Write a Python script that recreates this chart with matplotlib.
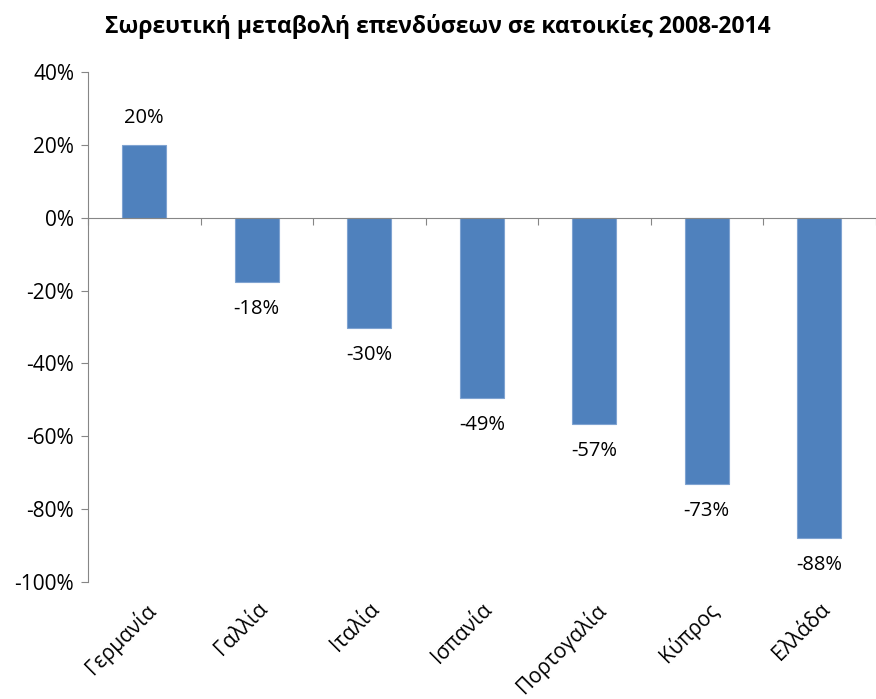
import matplotlib.pyplot as plt
from matplotlib.ticker import FuncFormatter

plt.rcParams['font.family'] = ['Open Sans', 'DejaVu Sans']

countries = ['Γερμανία', 'Γαλλία', 'Ιταλία', 'Ισπανία', 'Πορτογαλία', 'Κύπρος', 'Ελλάδα']
values = [20.0, -17.7, -30.3, -49.5, -56.6, -73.1, -88.0]
labels = ['20%', '-18%', '-30%', '-49%', '-57%', '-73%', '-88%']

fig = plt.figure(figsize=(8.76, 6.99), dpi=100)
ax = fig.add_axes([0.1005, 0.1674, 0.899, 0.7296])

x = list(range(len(countries)))
ax.bar(x, values, width=0.39, color='#4F81BD', edgecolor='#7FA3D1', linewidth=0.8, zorder=2)

for xi, v, lab in zip(x, values, labels):
    off = 12 if v > 0 else -12
    ax.annotate(lab, (xi, v), xytext=(0, off), textcoords='offset points',
                ha='center', va='bottom' if v > 0 else 'top', fontsize=14.5)

ax.set_xlim(-0.5, 6.5)
ax.set_ylim(-100, 40)
ax.set_yticks(range(-100, 41, 20))
ax.yaxis.set_major_formatter(FuncFormatter(lambda v, p: f'{v:.0f}%'))
ax.tick_params(axis='y', length=5, color='#868686', labelsize=15, pad=5)

for s in ['top', 'right']:
    ax.spines[s].set_visible(False)
ax.spines['left'].set_color('#868686')
ax.spines['bottom'].set_color('#868686')
ax.spines['bottom'].set_position(('data', 0))
ax.set_xticks([i + 0.5 for i in range(-1, len(countries))])
ax.set_xticklabels([])
ax.tick_params(axis='x', length=5, color='#868686', direction='out')

sec = ax.secondary_xaxis(location=0)
sec.set_xticks(x)
sec.set_xticklabels(countries, rotation=45, ha='right', va='top', rotation_mode='anchor', fontsize=15)
sec.tick_params(length=0, pad=12)
sec.spines['bottom'].set_visible(False)

fig.suptitle('Σωρευτική μεταβολή επενδύσεων σε κατοικίες 2008-2014', fontsize=16.5,
             fontweight='bold', y=0.98)

fig.savefig('out.png', dpi=100)
